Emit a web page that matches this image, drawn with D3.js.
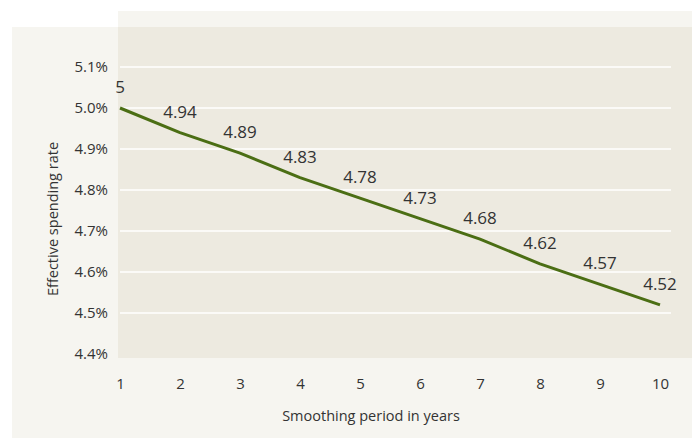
<!DOCTYPE html>
<html><head><meta charset="utf-8">
<script src="https://cdn.jsdelivr.net/npm/d3@7"></script>
<style>
html,body{margin:0;padding:0;background:#fff;}
svg{display:block;font-family:"Open Sans",sans-serif;}
</style></head>
<body>
<svg id="c" width="693" height="438"></svg>
<script>
const years = [1,2,3,4,5,6,7,8,9,10];
const rates = [5.00,4.94,4.89,4.83,4.78,4.73,4.68,4.62,4.57,4.52];
const labels = ["5","4.94","4.89","4.83","4.78","4.73","4.68","4.62","4.57","4.52"];
const yTicks = [4.4,4.5,4.6,4.7,4.8,4.9,5.0,5.1];

const svg = d3.select("#c");
const x = d3.scaleLinear().domain([1,10]).range([120,660]);
const y = d3.scaleLinear().domain([4.4,5.1]).range([354,67]);

// panels
svg.append("rect").attr("x",12).attr("y",27).attr("width",680).attr("height",411).attr("fill","#f6f5f0");
svg.append("rect").attr("x",118).attr("y",11).attr("width",574).attr("height",16).attr("fill","#f6f5f0");
svg.append("rect").attr("x",118).attr("y",27).attr("width",574).attr("height",331).attr("fill","#edeae0");

// gridlines
svg.append("g").selectAll("line").data(yTicks.filter(d=>d>4.41)).join("line")
  .attr("x1",120).attr("x2",671)
  .attr("y1",d=>y(d)).attr("y2",d=>y(d))
  .attr("stroke","#ffffff").attr("stroke-width",1.5);

// y axis
const yAxis = d3.axisLeft(y).tickValues(yTicks).tickFormat(d=>d.toFixed(1)+"%").tickSize(0).tickPadding(0);
const gy = svg.append("g").attr("transform","translate(108,0)").call(yAxis);
gy.select(".domain").remove();
gy.selectAll("text").attr("font-size",15).attr("fill","#333").attr("font-family","Open Sans");

// x axis
const xAxis = d3.axisBottom(x).tickValues(years).tickFormat(d3.format("d")).tickSize(0).tickPadding(0);
const gx = svg.append("g").attr("transform","translate(0,378)").call(xAxis);
gx.select(".domain").remove();
gx.selectAll("text").attr("font-size",15).attr("fill","#333").attr("font-family","Open Sans");

// axis titles
svg.append("text").attr("x",371).attr("y",421).attr("text-anchor","middle")
  .attr("font-size",14.5).attr("fill","#333").text("Smoothing period in years");
svg.append("text").attr("transform","translate(58,219) rotate(-90)").attr("text-anchor","middle")
  .attr("font-size",14.5).attr("fill","#333").text("Effective spending rate");

// line
const line = d3.line().x((d,i)=>x(years[i])).y(d=>y(d));
svg.append("path").datum(rates).attr("d",line).attr("fill","none")
  .attr("stroke","#4b6e14").attr("stroke-width",3).attr("stroke-linejoin","round");

// data labels
svg.append("g").selectAll("text").data(rates).join("text")
  .attr("x",(d,i)=>x(years[i])).attr("y",d=>y(d)-15)
  .attr("text-anchor","middle").attr("font-size",17).attr("fill","#333")
  .text((d,i)=>labels[i]);
</script>
</body></html>
